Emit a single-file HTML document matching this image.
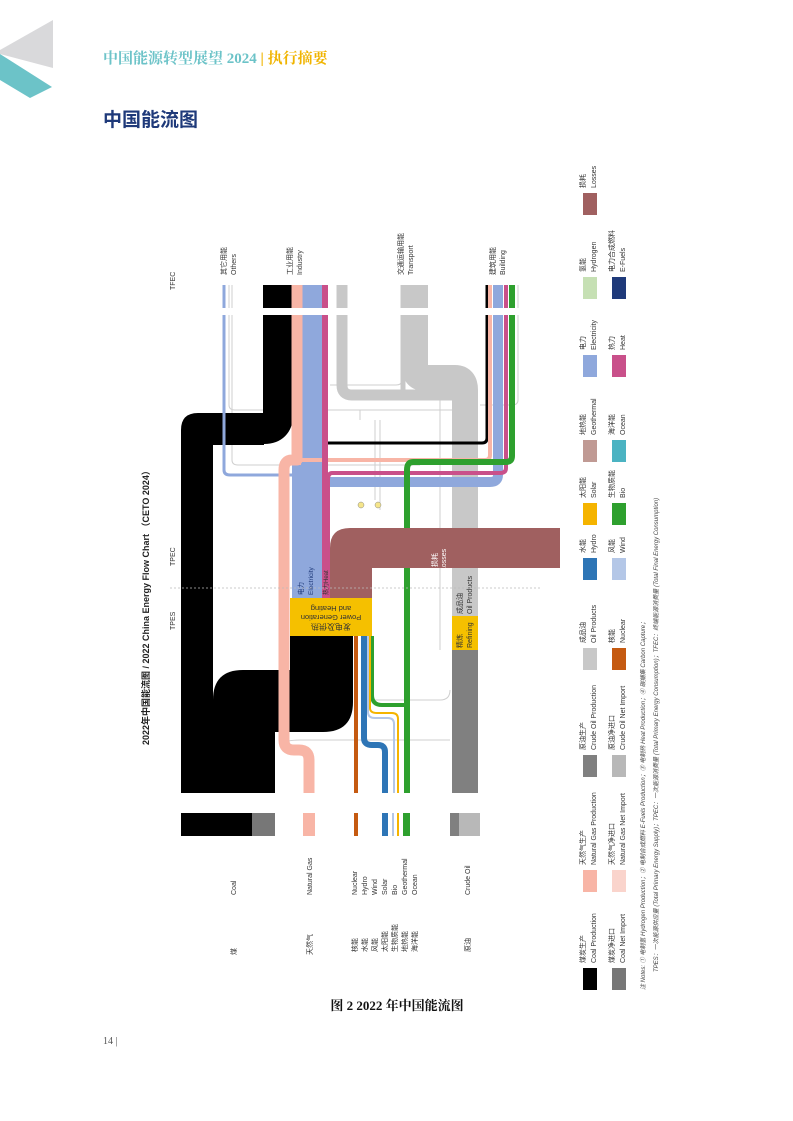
<!DOCTYPE html>
<html><head><meta charset="utf-8"><style>
html,body{margin:0;padding:0;background:#fff}
svg{display:block}
text{font-family:"Liberation Sans","Noto Sans CJK SC",sans-serif}
</style></head><body>
<svg width="793" height="1121" viewBox="0 0 793 1121" xmlns="http://www.w3.org/2000/svg">
<polygon points="0,50 53,20 53,68 0,54" fill="#d9d9db"/>
<polygon points="0,54 52,87 30,98 0,80" fill="#6cc3c8"/>
<text x="103" y="63" font-size="15" font-weight="bold" fill="#6cc3c8" style="font-family:'Liberation Serif','Noto Serif CJK SC',serif">中国能源转型展望 2024 <tspan fill="#f0b400">| 执行摘要</tspan></text>
<text x="103" y="126" font-size="19" font-weight="bold" fill="#1f3a7a" style="font-family:'Liberation Sans','Noto Sans CJK SC',sans-serif">中国能流图</text>

<g fill="none" stroke="#cfcfcf" stroke-width="1">
<path d="M229,285 V405 Q229,410 235,410 H470"/>
<path d="M232,285 V460 Q232,465 238,465 H420"/>
<path d="M402,285 V380 Q402,385 396,385 H330"/>
<path d="M518,285 V400 Q518,405 512,405 H480"/>
<path d="M360,410 V420 M375,420 V500 M380,420 V510"/>
<path d="M362,640 V690 Q362,700 372,700 H440 Q450,700 450,690"/>
<path d="M280,745 Q285,740 300,740 H450"/>
<path d="M440,650 V400"/>
</g>
<circle cx="361" cy="505" r="3" fill="#f5e58a" stroke="#888" stroke-width="0.5"/>
<circle cx="378" cy="505" r="3" fill="#f5e58a" stroke="#888" stroke-width="0.5"/>

<g fill="none" stroke="#c8c8c8" stroke-linejoin="round">
<path d="M415,285 V368 Q415,378 425,378 H455 Q465,378 465,390 V616" stroke-width="26"/>
<path d="M342,285 V385 Q342,395 352,395 H458" stroke-width="11"/>
<path d="M403,285 V400" stroke-width="5"/>
</g>
<rect x="452" y="390" width="26" height="226" fill="#c8c8c8"/>
<rect x="452" y="616" width="26" height="34" fill="#f5c000"/>
<rect x="452" y="650" width="26" height="143" fill="#808080"/>

<path d="M197,793 V440 Q197,429 210,429 H264 Q278,429 278,415 V285" fill="none" stroke="#000" stroke-width="30"/>
<path d="M181,793 V430 Q181,413 198,413 H264 V445 H213 V793 Z" fill="#000"/>
<path d="M213,793 V700 Q213,670 243,670 H290 V636 H353 V702 Q353,732 323,732 H275 V793 Z" fill="#000"/>
<path d="M487,285 V438 Q487,443 482,443 H300" fill="none" stroke="#000" stroke-width="3"/>

<path d="M312,285 V598" fill="none" stroke="#8fa8dc" stroke-width="20"/>
<rect x="292" y="462" width="30" height="136" fill="#8fa8dc"/>
<path d="M498,285 V475 Q498,482 490,482 H322" fill="none" stroke="#8fa8dc" stroke-width="10"/>
<path d="M224,285 V470 Q224,475 230,475 H292" fill="none" stroke="#8fa8dc" stroke-width="3"/>

<path d="M309,793 V760 Q309,750 299,750 H294 Q284,750 284,740 V470 Q284,460 292,460 H297 V285" fill="none" stroke="#f8b5a6" stroke-width="11" stroke-linejoin="round"/>
<path d="M490,285 V455 Q490,460 485,460 H290" fill="none" stroke="#f8b5a6" stroke-width="4"/>
<rect x="294" y="285" width="7" height="180" fill="#f8b5a6"/>

<path d="M325,285 V598" fill="none" stroke="#c9508a" stroke-width="6"/>
<path d="M506,285 V468 Q506,473 500,473 H332 Q328,473 328,480 V598" fill="none" stroke="#c9508a" stroke-width="4"/>

<path d="M512,285 V456 Q512,462 506,462 H413 Q407,462 407,470 V793" fill="none" stroke="#2ea02e" stroke-width="6"/>
<path d="M372,636 V695 Q372,705 382,705 H404" fill="none" stroke="#2ea02e" stroke-width="4"/>

<rect x="354" y="636" width="4" height="157" fill="#c55a11"/>
<path d="M364,636 V738 Q364,745 372,745 H378 Q385,745 385,752 V793" fill="none" stroke="#2e75b6" stroke-width="6"/>
<path d="M368,636 V712 Q368,718 375,718 H388 Q394,718 394,724 V793" fill="none" stroke="#b4c7e7" stroke-width="2"/>
<path d="M370,636 V708 Q370,713 377,713 H392 Q398,713 398,719 V793" fill="none" stroke="#f5b400" stroke-width="2"/>

<path d="M330,598 V548 Q330,528 350,528 H560 V568 H372 V598 Z" fill="#a06060"/>
<text transform="translate(437,560) rotate(-90)" font-size="7" fill="#fff" text-anchor="middle">损耗</text>
<text transform="translate(446,560) rotate(-90)" font-size="7" fill="#fff" text-anchor="middle">Losses</text>

<rect x="290" y="598" width="82" height="38" fill="#f5c000"/>
<text transform="translate(331,624) rotate(180)" font-size="8" fill="#333" text-anchor="middle">发电及供热</text>
<text transform="translate(331,615) rotate(180)" font-size="7.5" fill="#333" text-anchor="middle">Power Generation</text>
<text transform="translate(331,606) rotate(180)" font-size="7.5" fill="#333" text-anchor="middle">and Heating</text>
<text transform="translate(303,595) rotate(-90)" font-size="6.5" fill="#1f3a7a">电力</text>
<text transform="translate(313,595) rotate(-90)" font-size="6.5" fill="#1f3a7a">Electricity</text>
<text transform="translate(328,595) rotate(-90)" font-size="6" fill="#333">热力Heat</text>
<text transform="translate(462,614) rotate(-90)" font-size="7" fill="#333">成品油</text>
<text transform="translate(472,614) rotate(-90)" font-size="7" fill="#333">Oil Products</text>
<text transform="translate(462,648) rotate(-90)" font-size="7" fill="#333">精炼</text>
<text transform="translate(472,648) rotate(-90)" font-size="7" fill="#333">Refining</text>

<rect x="215" y="308" width="310" height="7" fill="#fff"/>

<line x1="170" y1="588" x2="540" y2="588" stroke="#bbb" stroke-width="0.7" stroke-dasharray="2,2"/>

<rect x="181" y="813" width="71" height="23" fill="#000"/>
<rect x="252" y="813" width="23" height="23" fill="#777"/>
<rect x="303" y="813" width="12" height="23" fill="#f8b5a6"/>
<rect x="354" y="813" width="4" height="23" fill="#c55a11"/>
<rect x="382" y="813" width="6" height="23" fill="#2e75b6"/>
<rect x="392" y="813" width="2" height="23" fill="#b4c7e7"/>
<rect x="397" y="813" width="2" height="23" fill="#f5b400"/>
<rect x="403" y="813" width="7" height="23" fill="#2ea02e"/>
<rect x="450" y="813" width="9" height="23" fill="#808080"/>
<rect x="459" y="813" width="21" height="23" fill="#b8b8b8"/>

<g font-size="7" fill="#333">
<text transform="translate(175,290) rotate(-90)">TFEC</text>
<text transform="translate(175,566) rotate(-90)">TPEC</text>
<text transform="translate(175,630) rotate(-90)">TPES</text>
<text transform="translate(149,745) rotate(-90)" font-weight="bold" font-size="9" fill="#222">2022年中国能流图 / 2022 China Energy Flow Chart （CETO 2024）</text>
<text transform="translate(226,275) rotate(-90)">其它用能</text>
<text transform="translate(236,275) rotate(-90)">Others</text>
<text transform="translate(292,275) rotate(-90)">工业用能</text>
<text transform="translate(302,275) rotate(-90)">Industry</text>
<text transform="translate(403,275) rotate(-90)">交通运输用能</text>
<text transform="translate(413,275) rotate(-90)">Transport</text>
<text transform="translate(495,275) rotate(-90)">建筑用能</text>
<text transform="translate(505,275) rotate(-90)">Building</text>
<text transform="translate(236,895) rotate(-90)">Coal</text>
<text transform="translate(236,955) rotate(-90)">煤</text>
<text transform="translate(312,895) rotate(-90)">Natural Gas</text>
<text transform="translate(312,955) rotate(-90)">天然气</text>
<text transform="translate(357,895) rotate(-90)">Nuclear</text>
<text transform="translate(367,895) rotate(-90)">Hydro</text>
<text transform="translate(377,895) rotate(-90)">Wind</text>
<text transform="translate(387,895) rotate(-90)">Solar</text>
<text transform="translate(397,895) rotate(-90)">Bio</text>
<text transform="translate(407,895) rotate(-90)">Geothermal</text>
<text transform="translate(417,895) rotate(-90)">Ocean</text>
<text transform="translate(357,952) rotate(-90)">核能</text>
<text transform="translate(367,952) rotate(-90)">水能</text>
<text transform="translate(377,952) rotate(-90)">风能</text>
<text transform="translate(387,952) rotate(-90)">太阳能</text>
<text transform="translate(397,952) rotate(-90)">生物质能</text>
<text transform="translate(407,952) rotate(-90)">地热能</text>
<text transform="translate(417,952) rotate(-90)">海洋能</text>
<text transform="translate(470,895) rotate(-90)">Crude Oil</text>
<text transform="translate(470,952) rotate(-90)">原油</text>
</g>

<g>
<rect x="583" y="968" width="14" height="22" fill="#000"/>
<rect x="612" y="968" width="14" height="22" fill="#777"/>
<rect x="583" y="870" width="14" height="22" fill="#f8b5a6"/>
<rect x="612" y="870" width="14" height="22" fill="#fad4cc"/>
<rect x="583" y="755" width="14" height="22" fill="#808080"/>
<rect x="612" y="755" width="14" height="22" fill="#b8b8b8"/>
<rect x="583" y="648" width="14" height="22" fill="#c8c8c8"/>
<rect x="612" y="648" width="14" height="22" fill="#c55a11"/>
<rect x="583" y="558" width="14" height="22" fill="#2e75b6"/>
<rect x="612" y="558" width="14" height="22" fill="#b4c7e7"/>
<rect x="583" y="503" width="14" height="22" fill="#f5b400"/>
<rect x="612" y="503" width="14" height="22" fill="#2ea02e"/>
<rect x="583" y="440" width="14" height="22" fill="#c09a94"/>
<rect x="612" y="440" width="14" height="22" fill="#4bb3c2"/>
<rect x="583" y="355" width="14" height="22" fill="#8fa8dc"/>
<rect x="612" y="355" width="14" height="22" fill="#c9508a"/>
<rect x="583" y="277" width="14" height="22" fill="#c6e0b4"/>
<rect x="612" y="277" width="14" height="22" fill="#1f3a7a"/>
<rect x="583" y="193" width="14" height="22" fill="#a06060"/>
</g>
<g font-size="7" fill="#333">
<text transform="translate(585,963) rotate(-90)">煤炭生产</text><text transform="translate(596,963) rotate(-90)">Coal Production</text>
<text transform="translate(614,963) rotate(-90)">煤炭净进口</text><text transform="translate(625,963) rotate(-90)">Coal Net Import</text>
<text transform="translate(585,865) rotate(-90)">天然气生产</text><text transform="translate(596,865) rotate(-90)">Natural Gas Production</text>
<text transform="translate(614,865) rotate(-90)">天然气净进口</text><text transform="translate(625,865) rotate(-90)">Natural Gas Net Import</text>
<text transform="translate(585,750) rotate(-90)">原油生产</text><text transform="translate(596,750) rotate(-90)">Crude Oil Production</text>
<text transform="translate(614,750) rotate(-90)">原油净进口</text><text transform="translate(625,750) rotate(-90)">Crude Oil Net Import</text>
<text transform="translate(585,643) rotate(-90)">成品油</text><text transform="translate(596,643) rotate(-90)">Oil Products</text>
<text transform="translate(614,643) rotate(-90)">核能</text><text transform="translate(625,643) rotate(-90)">Nuclear</text>
<text transform="translate(585,553) rotate(-90)">水能</text><text transform="translate(596,553) rotate(-90)">Hydro</text>
<text transform="translate(614,553) rotate(-90)">风能</text><text transform="translate(625,553) rotate(-90)">Wind</text>
<text transform="translate(585,498) rotate(-90)">太阳能</text><text transform="translate(596,498) rotate(-90)">Solar</text>
<text transform="translate(614,498) rotate(-90)">生物质能</text><text transform="translate(625,498) rotate(-90)">Bio</text>
<text transform="translate(585,435) rotate(-90)">地热能</text><text transform="translate(596,435) rotate(-90)">Geothermal</text>
<text transform="translate(614,435) rotate(-90)">海洋能</text><text transform="translate(625,435) rotate(-90)">Ocean</text>
<text transform="translate(585,350) rotate(-90)">电力</text><text transform="translate(596,350) rotate(-90)">Electricity</text>
<text transform="translate(614,350) rotate(-90)">热力</text><text transform="translate(625,350) rotate(-90)">Heat</text>
<text transform="translate(585,272) rotate(-90)">氢能</text><text transform="translate(596,272) rotate(-90)">Hydrogen</text>
<text transform="translate(614,272) rotate(-90)">电力合成燃料</text><text transform="translate(625,272) rotate(-90)">E-Fuels</text>
<text transform="translate(585,188) rotate(-90)">损耗</text><text transform="translate(596,188) rotate(-90)">Losses</text>
</g>
<g font-size="6" fill="#444" font-style="italic">
<text transform="translate(645,990) rotate(-90)">注 Notes:  ① 电制氢 Hydrogen Production；② 电制合成燃料 E-Fuels Production；③ 电制热 Heat Production；④ 碳捕集 Carbon Capture；</text>
<text transform="translate(658,972) rotate(-90)">TPES：一次能源供应量 (Total Primary Energy Supply)；TPEC：一次能源消费量 (Total Primary Energy Consumption)；TFEC：终端能源消费量 (Total Final Energy Consumption)</text>
</g>

<text x="397" y="1010" font-size="13" font-weight="bold" fill="#111" text-anchor="middle" style="font-family:'Liberation Serif','Noto Serif CJK SC',serif">图 2  2022 年中国能流图</text>
<text x="103" y="1044" font-size="10" fill="#555" style="font-family:'Liberation Serif',serif">14 |</text>
</svg>
</body></html>
